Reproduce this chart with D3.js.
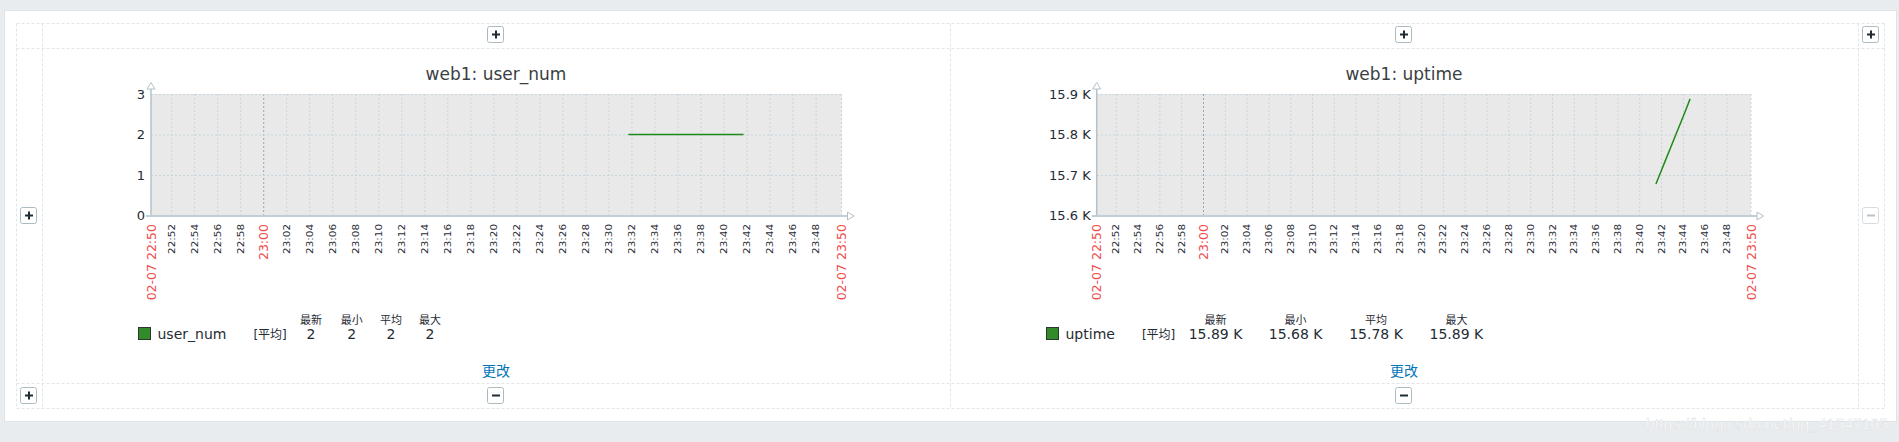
<!DOCTYPE html>
<html><head><meta charset="utf-8">
<script src="https://cdn.jsdelivr.net/npm/d3@7"></script>
<style>
html,body{margin:0;padding:0;background:#e9ecef;overflow:hidden;}
svg{display:block;font-family:"DejaVu Sans",sans-serif;}
</style></head><body>
<svg id="c" width="1899" height="442"></svg>
<script>
// ---------------- data ----------------
const day = "2021-02-07 ";
const timeStart = "22:50:15";
const timeEnd = "23:50:15";
const edgeLabels = ["02-07 22:50", "02-07 23:50"];

const userNumTimes = ["23:31:44","23:32:44","23:33:44","23:34:44","23:35:44","23:36:44","23:37:44","23:38:44","23:39:44","23:40:44","23:41:44"];
const userNumValues = [2,2,2,2,2,2,2,2,2,2,2];

const uptimeTimes = ["23:41:32","23:41:59","23:42:26","23:42:53","23:43:20","23:43:47","23:44:14","23:44:40"];
const uptimeValues = [15678,15708,15738,15768,15798,15828,15858,15888];

const userNumYTicks = [0,1,2,3];
const userNumYLabels = ["0","1","2","3"];
const uptimeYTicks = [15600,15700,15800,15900];
const uptimeYLabels = ["15.6 K","15.7 K","15.8 K","15.9 K"];

const titles = ["web1: user_num", "web1: uptime"];
const itemNames = ["user_num", "uptime"];
const funcLabel = "[平均]";
const legendHeaders = ["最新","最小","平均","最大"];
const userNumStats = ["2","2","2","2"];
const uptimeStats = ["15.89 K","15.68 K","15.78 K","15.89 K"];
const linkText = "更改";
const watermark = "https://blog.csdn.net/qq_41547105";

// ---------------- page frame ----------------
const svg = d3.select("#c");
const parseT = d3.timeParse("%Y-%m-%d %H:%M:%S");
const fmtHM = d3.timeFormat("%H:%M");

svg.append("rect").attr("x",4.5).attr("y",10.5).attr("width",1892).attr("height",411)
  .attr("fill","#fff").attr("stroke","#dfe4e7");

const colsX = [16.5, 42.5, 950.5, 1858.5, 1884.5];
const rowsY = [23.5, 48.5, 383.5, 408.5];
const frame = svg.append("g").attr("stroke","#e2e5e8").attr("stroke-dasharray","3,2").attr("fill","none");
colsX.forEach(cx => frame.append("line").attr("x1",cx).attr("x2",cx).attr("y1",rowsY[0]).attr("y2",rowsY[3]));
rowsY.forEach(ry => frame.append("line").attr("x1",colsX[0]).attr("x2",colsX[4]).attr("y1",ry).attr("y2",ry));

function button(cx, cy, kind, disabled){
  const g = svg.append("g");
  g.append("rect").attr("x",cx-8.5).attr("y",cy-8.5).attr("width",16).attr("height",16).attr("rx",2)
    .attr("fill","#fff").attr("stroke", disabled ? "#d6dde1" : "#acbbc2");
  const col = disabled ? "#b9c3c8" : "#1f2c33";
  g.append("line").attr("x1",cx-4).attr("x2",cx+4).attr("y1",cy-0.5).attr("y2",cy-0.5)
    .attr("stroke",col).attr("stroke-width",2);
  if(kind==="+") g.append("line").attr("x1",cx).attr("x2",cx).attr("y1",cy-4.5).attr("y2",cy+3.5)
    .attr("stroke",col).attr("stroke-width",2);
}
button(496,35,"+"); button(1404,35,"+"); button(1871,35,"+");
button(29,216,"+"); button(1871,216,"-",true);
button(29,396,"+"); button(496,396,"-"); button(1404,396,"-");

// ---------------- graphs ----------------
const plotT = 94, plotB = 215.5;

function drawGraph(o){
  const g = svg.append("g");
  const cellC = o.cellX + 454;
  const x = d3.scaleTime().domain([parseT(day+timeStart), parseT(day+timeEnd)]).range([o.plotL, o.plotR]);
  const y = d3.scaleLinear().domain([o.yTicks[0], o.yTicks[o.yTicks.length-1]]).range([plotB, plotT]);

  g.append("text").attr("x",cellC).attr("y",80).attr("text-anchor","middle")
    .attr("font-size",17).attr("fill","#3a3f42").text(o.title);

  g.append("rect").attr("x",o.plotL).attr("y",plotT).attr("width",o.plotR-o.plotL).attr("height",plotB-plotT)
    .attr("fill","#e9e9e9");

  const ticks = x.ticks(d3.timeMinute.every(2)).filter(t => x(t)-o.plotL > 4 && o.plotR-x(t) > 4);

  // vertical grid
  const gx = g.append("g").attr("transform",`translate(0,${plotT})`)
    .call(d3.axisBottom(x).tickValues(ticks).tickSize(plotB-plotT).tickFormat(""));
  gx.select(".domain").remove();
  gx.selectAll("line").attr("stroke", d => d.getMinutes()===0 ? "#97a5ae" : "#c8d5dd")
    .attr("stroke-dasharray","2,2");

  // horizontal grid + y labels
  const gy = g.append("g").attr("transform",`translate(${o.plotL},0)`)
    .call(d3.axisLeft(y).tickValues(o.yTicks).tickSize(-(o.plotR-o.plotL)).tickPadding(6)
      .tickFormat((d,i) => o.yLabels[i]));
  gy.select(".domain").remove();
  gy.selectAll("line").attr("stroke","#c8d5dd").attr("stroke-dasharray","2,2");
  gy.selectAll("text").attr("font-size",13).attr("fill","#1f2c33").attr("font-family","DejaVu Sans");

  // right border
  g.append("line").attr("x1",o.plotR).attr("x2",o.plotR).attr("y1",plotT).attr("y2",plotB)
    .attr("stroke","#c8d5dd").attr("stroke-dasharray","2,2");

  // x labels
  const xl = g.append("g").attr("transform",`translate(0,${plotB})`)
    .call(d3.axisBottom(x).tickValues(ticks).tickSize(0).tickFormat(fmtHM));
  xl.select(".domain").remove();
  xl.selectAll("text")
    .attr("y",null).attr("dy",null)
    .attr("dominant-baseline","central")
    .attr("text-anchor","end")
    .attr("font-family","DejaVu Sans")
    .each(function(d){
      const s = d3.select(this);
      if(d.getMinutes()===0){
        s.attr("font-size",12.5).attr("fill","#f04b4b").attr("transform","translate(0,8.5) rotate(-90)");
      } else {
        s.attr("font-size",8).attr("fill","#1f2c33").attr("transform","translate(0,8.5) rotate(-90) scale(1.3,1)");
      }
    });
  [o.plotL, o.plotR].forEach((px,i) => {
    g.append("text").attr("transform",`translate(${px},${plotB+8.5}) rotate(-90)`)
      .attr("text-anchor","end").attr("dominant-baseline","central")
      .attr("font-size",12.5).attr("fill","#f04b4b").text(edgeLabels[i]);
  });

  // axes
  g.append("line").attr("x1",o.plotL).attr("x2",o.plotL).attr("y1",89).attr("y2",plotB+1)
    .attr("stroke","#b3c2ca").attr("stroke-width",1.5);
  g.append("path").attr("d",`M${o.plotL-4},${89}L${o.plotL},${82.5}L${o.plotL+4},${89}Z`)
    .attr("fill","#fff").attr("stroke","#b3c2ca");
  g.append("line").attr("x1",o.plotL-5).attr("x2",o.plotR+6).attr("y1",plotB+0.5).attr("y2",plotB+0.5)
    .attr("stroke","#c2ced5").attr("stroke-width",2);
  g.append("path").attr("d",`M${o.plotR+6},${plotB-3.5}L${o.plotR+12.5},${plotB+0.5}L${o.plotR+6},${plotB+4.5}Z`)
    .attr("fill","#fff").attr("stroke","#b3c2ca");

  // data line
  const pts = o.times.map((t,i) => ({t: parseT(day+t), v: o.values[i]}));
  g.append("path").datum(pts)
    .attr("d", d3.line().x(d => x(d.t)).y(d => y(d.v)))
    .attr("fill","none").attr("stroke","#1f8a17").attr("stroke-width",1.5);

  // legend
  const ly = 338.5;
  g.append("rect").attr("x",o.cellX+96.5).attr("y",327.5).attr("width",12).attr("height",12)
    .attr("fill","#338a2b").attr("stroke","#2a3a2a");
  const nameT = g.append("text").attr("x",o.cellX+115.5).attr("y",ly).attr("font-size",14)
    .attr("fill","#1f2c33").text(o.name);
  const nameEnd = o.cellX + 115.5 + nameT.node().getComputedTextLength();
  g.append("text").attr("x",nameEnd+27).attr("y",ly).attr("font-size",12)
    .attr("font-family","'DejaVu Sans','Noto Sans CJK SC'")
    .attr("fill","#1f2c33").text(funcLabel);
  o.colC.forEach((c,i) => {
    g.append("text").attr("x",o.cellX+c).attr("y",323.5).attr("text-anchor","middle")
      .attr("font-size",11).attr("font-family","'Noto Sans CJK SC'").attr("fill","#1f2c33")
      .text(legendHeaders[i]);
    g.append("text").attr("x",o.cellX+c).attr("y",ly).attr("text-anchor","middle")
      .attr("font-size",14).attr("fill","#1f2c33").text(o.stats[i]);
  });

  // link
  g.append("text").attr("x",cellC).attr("y",376).attr("text-anchor","middle")
    .attr("font-size",14).attr("font-family","'Noto Sans CJK SC'").attr("fill","#0275b8").text(linkText);
}

drawGraph({cellX:42, plotL:151, plotR:841.5, title:titles[0], yTicks:userNumYTicks, yLabels:userNumYLabels,
  times:userNumTimes, values:userNumValues, name:itemNames[0], stats:userNumStats, colC:[269,309.7,349,388]});
drawGraph({cellX:950, plotL:1096.7, plotR:1751, title:titles[1], yTicks:uptimeYTicks, yLabels:uptimeYLabels,
  times:uptimeTimes, values:uptimeValues, name:itemNames[1], stats:uptimeStats, colC:[265.5,345.6,426,506.4]});

svg.append("text").attr("x",1646).attr("y",429).attr("font-family","Liberation Sans").attr("font-size",15)
  .attr("textLength",242).attr("lengthAdjust","spacingAndGlyphs")
  .attr("fill","#ffffff").attr("stroke","#d9dde0").attr("stroke-width",0.4).text(watermark);
</script>
</body></html>
